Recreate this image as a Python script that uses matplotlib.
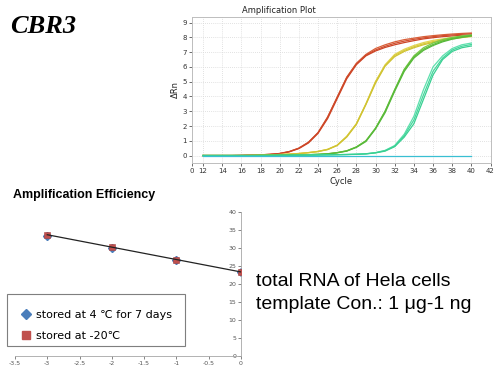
import numpy as np
import matplotlib
matplotlib.use("Agg")
import matplotlib.pyplot as plt
from matplotlib.lines import Line2D
from matplotlib.patches import Rectangle

# ---------------- data: amplification plot ----------------
cycles = list(range(12, 41))
red_a = [0, 0, 0, 0, 0.01, 0.03, 0.05, 0.08, 0.14, 0.27, 0.5, 0.9, 1.55, 2.6, 3.95, 5.3, 6.25, 6.85, 7.25, 7.5, 7.7, 7.85, 7.95, 8.05, 8.12, 8.18, 8.23, 8.27, 8.3]
red_b = [0, 0, 0, 0, 0.01, 0.03, 0.05, 0.08, 0.14, 0.27, 0.5, 0.9, 1.55, 2.6, 3.95, 5.3, 6.2, 6.8, 7.15, 7.4, 7.6, 7.75, 7.87, 7.97, 8.05, 8.12, 8.17, 8.21, 8.25]
red_c = [0, 0, 0, 0, 0.01, 0.03, 0.05, 0.08, 0.13, 0.25, 0.47, 0.85, 1.5, 2.5, 3.85, 5.2, 6.15, 6.75, 7.08, 7.32, 7.5, 7.65, 7.78, 7.9, 7.98, 8.05, 8.1, 8.14, 8.17]
yel_a = [0, 0, 0, 0, 0, 0.01, 0.02, 0.04, 0.07, 0.1, 0.14, 0.2, 0.28, 0.42, 0.7, 1.3, 2.15, 3.5, 5.0, 6.15, 6.85, 7.2, 7.45, 7.65, 7.8, 7.9, 8.0, 8.07, 8.12]
yel_b = [0, 0, 0, 0, 0, 0.01, 0.02, 0.04, 0.07, 0.1, 0.14, 0.2, 0.28, 0.42, 0.7, 1.3, 2.15, 3.5, 5.0, 6.1, 6.78, 7.12, 7.37, 7.57, 7.72, 7.84, 7.95, 8.03, 8.09]
yel_c = [0, 0, 0, 0, 0, 0.01, 0.02, 0.04, 0.06, 0.09, 0.13, 0.19, 0.27, 0.4, 0.68, 1.25, 2.1, 3.45, 4.9, 6.05, 6.7, 7.05, 7.3, 7.5, 7.66, 7.79, 7.9, 7.99, 8.06]
grn_a = [0, 0, 0, 0, 0, 0, 0.01, 0.02, 0.03, 0.04, 0.05, 0.06, 0.08, 0.12, 0.2, 0.32, 0.58, 1.0, 1.85, 3.0, 4.45, 5.85, 6.75, 7.3, 7.62, 7.85, 8.0, 8.1, 8.17]
grn_b = [0, 0, 0, 0, 0, 0, 0.01, 0.02, 0.03, 0.04, 0.05, 0.06, 0.08, 0.12, 0.2, 0.32, 0.58, 1.0, 1.85, 3.0, 4.45, 5.8, 6.68, 7.2, 7.52, 7.76, 7.93, 8.05, 8.13]
grn_c = [0, 0, 0, 0, 0, 0, 0.01, 0.02, 0.03, 0.04, 0.05, 0.06, 0.08, 0.11, 0.18, 0.3, 0.55, 0.95, 1.8, 2.9, 4.35, 5.7, 6.6, 7.12, 7.45, 7.7, 7.88, 8.0, 8.1]
teal_a = [0, 0, 0, 0, 0, 0, 0, 0, 0.01, 0.01, 0.02, 0.03, 0.04, 0.05, 0.06, 0.07, 0.09, 0.12, 0.2, 0.35, 0.68, 1.45, 2.65, 4.45, 6.0, 6.75, 7.25, 7.5, 7.62]
teal_b = [0, 0, 0, 0, 0, 0, 0, 0, 0.01, 0.01, 0.02, 0.03, 0.04, 0.05, 0.06, 0.07, 0.09, 0.12, 0.19, 0.33, 0.64, 1.35, 2.4, 4.1, 5.7, 6.6, 7.15, 7.4, 7.52]
teal_c = [0, 0, 0, 0, 0, 0, 0, 0, 0.01, 0.01, 0.02, 0.03, 0.04, 0.05, 0.06, 0.07, 0.08, 0.11, 0.18, 0.3, 0.6, 1.25, 2.15, 3.8, 5.45, 6.5, 7.05, 7.3, 7.42]
ntc = [0, 0, 0, 0, 0, 0, 0, 0, 0, 0, 0, 0, 0, 0, 0, 0, 0, 0, 0, 0, 0, 0, 0, 0, 0, 0, 0, 0, 0]

amp_series = [red_a, red_b, red_c, yel_a, yel_b, yel_c, grn_a, grn_b, grn_c, teal_a, teal_b, teal_c, ntc]
amp_colors = ["#d9603a", "#d14f2e", "#cc4426", "#e2d552", "#d9cb3c", "#cfc232",
              "#7acb48", "#62bf3c", "#56b83a", "#5ee0ae", "#45d69c", "#38cf92", "#39bfd2"]

x_ticks = [10.85, 12, 14, 16, 18, 20, 22, 24, 26, 28, 30, 32, 34, 36, 38, 40, 42]
x_tick_labels = ["0", "12", "14", "16", "18", "20", "22", "24", "26", "28", "30", "32", "34", "36", "38", "40", "42"]
y_ticks = [0, 1, 2, 3, 4, 5, 6, 7, 8, 9]

# ---------------- data: amplification efficiency ----------------
log_conc = [-3, -2, -1, 0]
ct_4c = [33.5, 30.0, 26.6, 23.3]
ct_m20 = [33.8, 30.2, 26.8, 23.4]
eff_x_ticks = [-3.5, -3, -2.5, -2, -1.5, -1, -0.5, 0]
eff_y_ticks = [0, 5, 10, 15, 20, 25, 30, 35, 40]
legend_labels = ["stored at 4 \u2103 for 7 days", "stored at -20\u2103"]

fig = plt.figure(figsize=(5.0, 3.72), dpi=100)
fig.patch.set_facecolor("white")

# ---- top amplification plot ----
ax1 = fig.add_axes([0.384, 0.562, 0.597, 0.393])
for ys, c in zip(amp_series, amp_colors):
    ax1.plot(cycles, ys, color=c, lw=0.9)
ax1.set_xlim(10.85, 42)
ax1.set_ylim(-0.5, 9.4)
ax1.set_xticks(x_ticks)
ax1.set_xticklabels(x_tick_labels)
ax1.set_yticks(y_ticks)
ax1.tick_params(labelsize=5, colors="#333333", length=2, width=0.5, pad=1.5)
ax1.grid(True, color="#d8d8d8", linestyle=(0, (1, 1.5)), lw=0.6)
for s in ax1.spines.values():
    s.set_color("#bdbdbd")
    s.set_linewidth(0.7)
ax1.set_title("Amplification Plot", fontsize=6, color="#222222", pad=3, x=0.29)
ax1.set_ylabel("\u0394Rn", fontsize=6, labelpad=2, color="#222222")
ax1.set_xlabel("Cycle", fontsize=6, labelpad=2, color="#222222")

# ---- bottom amplification efficiency ----
ax2 = fig.add_axes([0.030, 0.0438, 0.452, 0.3855])
ax2.plot(log_conc, ct_4c, linestyle="none", marker="D", ms=4, color="#4a7ebb")
ax2.plot(log_conc, ct_m20, linestyle="none", marker="s", ms=4.4, color="#c0504d",
         markeredgecolor="#a94240", markeredgewidth=0.4, zorder=3)
coef = np.polyfit(log_conc, ct_m20, 1)
fx = np.array([log_conc[0], log_conc[-1]])
ax2.plot(fx, np.polyval(coef, fx), color="#222222", lw=0.9, zorder=4)
ax2.set_xlim(-3.5, 0)
ax2.set_ylim(0, 40)
ax2.spines["top"].set_visible(False)
ax2.spines["right"].set_visible(False)
ax2.spines["left"].set_position(("data", 0))
for s in ("left", "bottom"):
    ax2.spines[s].set_color("#a6a6a6")
    ax2.spines[s].set_linewidth(0.6)
ax2.set_xticks(eff_x_ticks)
ax2.set_xticklabels([("%g" % v) for v in eff_x_ticks])
ax2.set_yticks(eff_y_ticks)
ax2.tick_params(labelsize=4.5, colors="#555555", length=2, width=0.5, pad=1.5)
ax2.patch.set_alpha(0)

# legend frame (Excel-style box)
fig.patches.append(Rectangle((0.014, 0.0699), 0.356, 0.1398, transform=fig.transFigure,
                             facecolor="white", edgecolor="#7f7f7f", lw=0.8, zorder=5))
handles = [Line2D([], [], linestyle="none", marker="D", ms=5.5, color="#4a7ebb"),
           Line2D([], [], linestyle="none", marker="s", ms=5.5, color="#c0504d")]
leg = fig.legend(handles, legend_labels, loc="center left",
                 bbox_to_anchor=(0.040, 0.126), fontsize=8, frameon=False,
                 handletextpad=0.45, handlelength=1.0,
                 borderpad=0, labelspacing=1.0, borderaxespad=0)
leg.set_zorder(6)

# ---- texts ----
fig.text(0.020, 0.928, "CBR3", fontsize=19, fontweight="bold", fontstyle="italic",
         family="Liberation Serif", va="center", ha="left")
fig.text(0.026, 0.476, "Amplification Efficiency", fontsize=9, fontweight="bold",
         va="center", ha="left", family="Liberation Sans")
fig.text(0.512, 0.2312, "total RNA of Hela cells",
         fontsize=14, family="Liberation Sans", va="baseline", ha="left")
fig.text(0.512, 0.1685, "template Con.: 1 \u03bcg-1 ng",
         fontsize=14, family="Liberation Sans", va="baseline", ha="left")

fig.savefig("out.png", dpi=100)
